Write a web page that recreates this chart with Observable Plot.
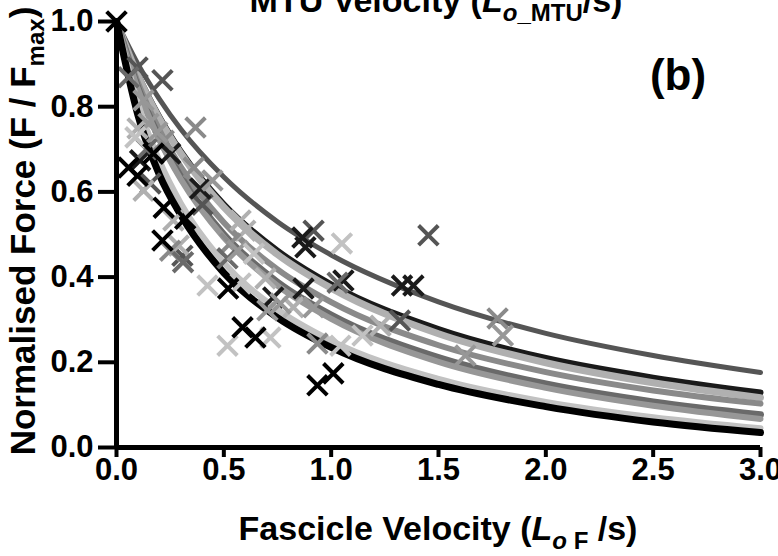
<!DOCTYPE html>
<html>
<head>
<meta charset="utf-8">
<script src="https://cdn.jsdelivr.net/npm/d3@7"></script>
<script src="https://cdn.jsdelivr.net/npm/@observablehq/plot@0.6"></script>
<style>
  html, body { margin: 0; padding: 0; background: #fff; }
  #chart { width: 778px; height: 556px; overflow: hidden; }
</style>
</head>
<body>
<div id="chart"></div>
<script>
// ---- tick values ----
const xTicks = [0, 0.5, 1.0, 1.5, 2.0, 2.5, 3.0];
const yTicks = [0, 0.2, 0.4, 0.6, 0.8, 1.0];

// ---- fitted curves ----
const curveV = [0, 0.1, 0.2, 0.3, 0.5, 0.75, 1.0, 1.5, 2.0, 2.5, 3.0];
const curve1 = [1, 0.900, 0.818, 0.747, 0.635, 0.530, 0.452, 0.342, 0.268, 0.216, 0.176];
const curve2 = [1, 0.875, 0.776, 0.695, 0.571, 0.462, 0.383, 0.278, 0.210, 0.164, 0.129];
const curve3 = [1, 0.873, 0.772, 0.690, 0.564, 0.453, 0.374, 0.267, 0.199, 0.152, 0.117];
const curve4 = [1, 0.856, 0.745, 0.658, 0.528, 0.418, 0.341, 0.240, 0.177, 0.134, 0.103];
const curve5 = [1, 0.844, 0.726, 0.635, 0.500, 0.388, 0.311, 0.211, 0.149, 0.107, 0.077];
const curve6 = [1, 0.841, 0.722, 0.629, 0.493, 0.380, 0.302, 0.201, 0.140, 0.098, 0.067];
const curve7 = [1, 0.808, 0.673, 0.573, 0.434, 0.324, 0.251, 0.161, 0.107, 0.071, 0.045];
const curve8 = [1, 0.780, 0.640, 0.545, 0.410, 0.305, 0.235, 0.148, 0.096, 0.060, 0.035];

// ---- measured points [fascicle velocity, normalised force] ----
const pts1 = [[0.098,0.892],[0.214,0.862],[0.158,0.62],[0.307,0.45],[0.918,0.509],[1.453,0.498],[1.32,0.298],[0.40,0.57]];
const pts2 = [[0.11,0.674],[0.25,0.69],[0.39,0.608],[0.73,0.352],[0.871,0.373],[0.866,0.493],[0.88,0.47],[1.057,0.392],[1.33,0.38],[1.383,0.38]];
const pts3 = [[0.098,0.749],[0.126,0.603],[0.265,0.533],[0.29,0.474],[0.578,0.533],[0.6,0.509],[0.694,0.397],[0.824,0.329],[1.23,0.286]];
const pts4 = [[0.368,0.751],[0.36,0.657],[0.25,0.462],[0.53,0.479],[0.936,0.244],[1.775,0.303],[0.22,0.72]];
const pts5 = [[0.056,0.869],[0.517,0.444],[1.03,0.387],[0.31,0.435],[0.14,0.70]];
const pts6 = [[0.126,0.815],[0.149,0.76],[0.19,0.74],[0.447,0.627],[0.564,0.462],[0.703,0.322],[0.764,0.338],[0.918,0.329],[1.8,0.263],[1.625,0.216]];
const pts7 = [[0.088,0.728],[1.05,0.479],[0.424,0.38],[0.578,0.385],[0.64,0.455],[0.517,0.239],[0.717,0.258],[1.043,0.239],[1.146,0.263]];
const pts8 = [[0,1.0],[0.056,0.657],[0.098,0.638],[0.172,0.69],[0.22,0.563],[0.214,0.486],[0.32,0.537],[0.52,0.373],[0.587,0.282],[0.647,0.258],[0.936,0.146],[1.01,0.174]];

const series = [
  {c: curve1, p: pts1, color: "#555555", w: 5},
  {c: curve2, p: pts2, color: "#1a1a1a", w: 6},
  {c: curve3, p: pts3, color: "#b0b0b0", w: 7},
  {c: curve4, p: pts4, color: "#8a8a8a", w: 6},
  {c: curve5, p: pts5, color: "#6a6a6a", w: 7},
  {c: curve6, p: pts6, color: "#979797", w: 6},
  {c: curve7, p: pts7, color: "#c2c2c2", w: 6},
  {c: curve8, p: pts8, color: "#000000", w: 7}
];

const FONT = "'Liberation Sans', Arial, Helvetica, sans-serif";

const lineMarks = series.map(s =>
  Plot.line(curveV.map((v, i) => ({v, f: s.c[i]})), {
    x: "v", y: "f", stroke: s.color, strokeWidth: s.w, curve: "monotone-x", strokeLinecap: "round"
  })
);
const dotMarks = series.map(s =>
  Plot.dot(s.p, {
    x: d => d[0], y: d => d[1], symbol: "times", r: 9, stroke: s.color, strokeWidth: 4, fill: "none"
  })
);

const chart = Plot.plot({
  width: 778,
  height: 556,
  marginLeft: 116,
  marginRight: 18,
  marginTop: 21,
  marginBottom: 109,
  style: {fontFamily: FONT, fontSize: "31px", fontWeight: "bold", color: "#000", background: "#fff", overflow: "visible"},
  x: {domain: [0, 3]},
  y: {domain: [0, 1]},
  marks: [
    ...lineMarks,
    ...dotMarks,
    Plot.ruleX([0], {stroke: "#000", strokeWidth: 5}),
    Plot.ruleY([0], {stroke: "#000", strokeWidth: 5, x1: 0, x2: 3}),
    Plot.axisX({ticks: xTicks, tickFormat: d3.format(".1f"), tickSize: 10, tickPadding: 0, strokeWidth: 4, label: null, fontSize: 31, fontWeight: "bold"}),
    Plot.axisY({ticks: yTicks, tickFormat: d3.format(".1f"), tickSize: 18, tickPadding: 5, strokeWidth: 4, label: null, fontSize: 31, fontWeight: "bold"})
  ]
});

document.getElementById("chart").appendChild(chart);

const svg = d3.select(chart);

// top title (partially cut off, as in the original figure)
const t = svg.append("text").attr("x", 436).attr("y", 12).attr("text-anchor", "middle")
  .style("font-size", "34px").style("font-weight", "bold").style("font-family", FONT);
t.append("tspan").text("MTU Velocity (");
t.append("tspan").style("font-style", "italic").text("L");
t.append("tspan").attr("dy", 9).style("font-size", "24px").style("font-style", "italic").text("o");
t.append("tspan").style("font-size", "24px").text("_MTU");
t.append("tspan").attr("dy", -9).text("/s)");

// panel label
svg.append("text").attr("x", 678).attr("y", 90).attr("text-anchor", "middle")
  .style("font-size", "44px").style("font-weight", "bold").style("font-family", FONT).text("(b)");

// x-axis title
const xt = svg.append("text").attr("x", 438).attr("y", 540).attr("text-anchor", "middle")
  .style("font-size", "34px").style("font-weight", "bold").style("font-family", FONT);
xt.append("tspan").text("Fascicle Velocity (");
xt.append("tspan").style("font-style", "italic").text("L");
xt.append("tspan").attr("dy", 9).style("font-size", "24px").style("font-style", "italic").text("o");
xt.append("tspan").style("font-size", "24px").text(" F");
xt.append("tspan").attr("dy", -9).text(" /s)");

// y-axis title
const yt = svg.append("text").attr("transform", "translate(35,231) rotate(-90)").attr("text-anchor", "middle")
  .style("font-size", "35px").style("font-weight", "bold").style("font-family", FONT);
yt.append("tspan").text("Normalised Force (F / F");
yt.append("tspan").attr("dy", 9).style("font-size", "24px").text("max");
yt.append("tspan").attr("dy", -9).text(")");
</script>
</body>
</html>
